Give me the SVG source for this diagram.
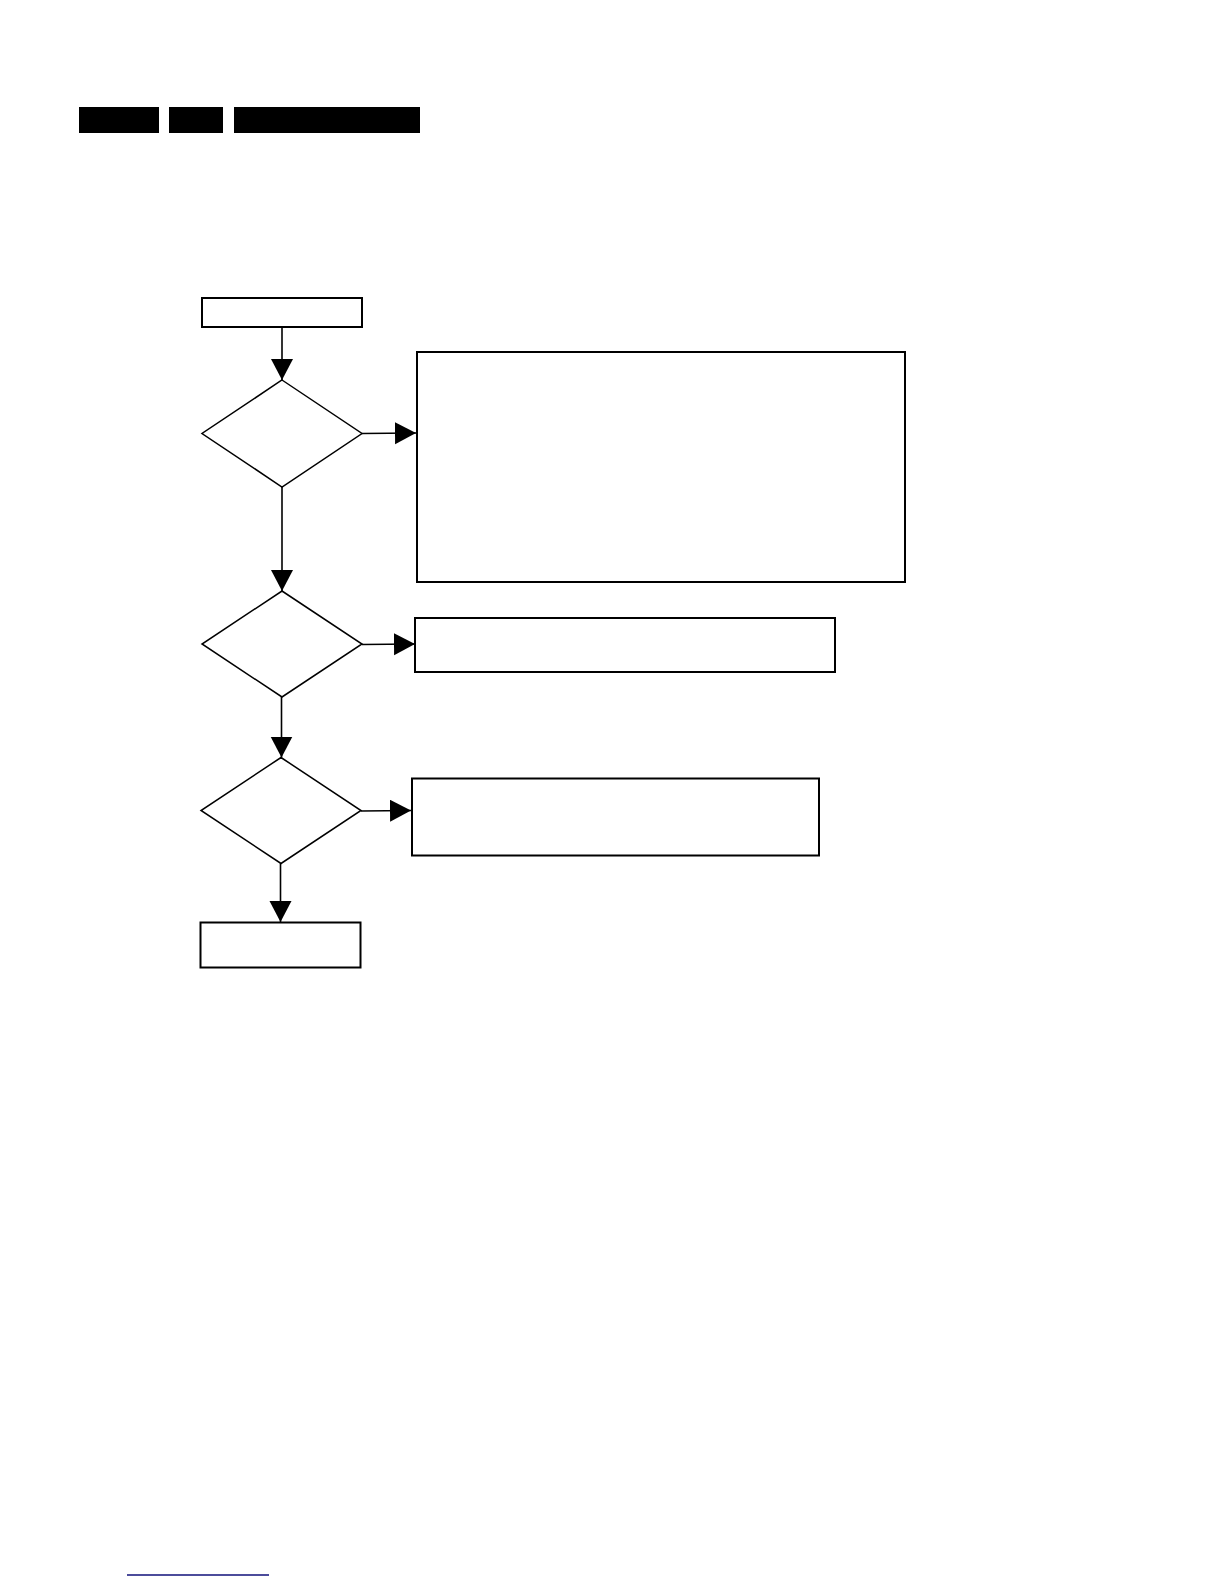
<svg xmlns="http://www.w3.org/2000/svg" width="1224" height="1584" viewBox="0 0 1224 1584">
  <style>
    .box { fill: #ffffff; stroke: #000000; stroke-width: 2; }
    .dia { fill: #ffffff; stroke: #000000; stroke-width: 1.5; }
    .conn { fill: none; stroke: #000000; stroke-width: 1.6; }
    .bar { fill: #000000; }
  </style>
  <defs>
    <marker id="arrow" markerUnits="userSpaceOnUse" markerWidth="23" markerHeight="23" refX="21" refY="11" orient="auto">
      <path d="M0,0 L21,11 L0,22 Z" fill="#000000"/>
    </marker>
  </defs>
  <rect width="1224" height="1584" fill="#ffffff"/>

  <g id="header">
    <rect class="bar" x="79" y="107" width="80" height="26"/>
    <rect class="bar" x="169" y="107" width="54" height="26"/>
    <rect class="bar" x="234" y="107" width="186" height="26"/>
  </g>

  <g id="start">
    <rect class="box" x="202" y="298" width="160" height="29"/>
  </g>
  <g id="decision1">
    <polygon class="dia" points="282,380 362,433.5 282,487 202,433.5"/>
  </g>
  <g id="action1">
    <rect class="box" x="417" y="352" width="488" height="230"/>
  </g>
  <g id="decision2">
    <polygon class="dia" points="282,591 362,644 282,697 202,644"/>
  </g>
  <g id="action2">
    <rect class="box" x="415" y="618" width="420" height="54"/>
  </g>
  <g id="decision3">
    <polygon class="dia" points="281,757.5 361,810.5 281,863.5 201,810.5"/>
  </g>
  <g id="action3">
    <rect class="box" x="412" y="778.5" width="407" height="77"/>
  </g>
  <g id="end">
    <rect class="box" x="200.5" y="922.5" width="160" height="45"/>
  </g>

  <g id="connectors">
    <line class="conn" x1="282" y1="327" x2="282" y2="380" marker-end="url(#arrow)"/>
    <line class="conn" x1="362" y1="433.5" x2="416" y2="433" marker-end="url(#arrow)"/>
    <line class="conn" x1="282" y1="487" x2="282" y2="591" marker-end="url(#arrow)"/>
    <line class="conn" x1="362" y1="644.5" x2="415" y2="644" marker-end="url(#arrow)"/>
    <line class="conn" x1="281.5" y1="697" x2="281.5" y2="757.5" marker-end="url(#arrow)"/>
    <line class="conn" x1="361" y1="811" x2="411" y2="810.5" marker-end="url(#arrow)"/>
    <line class="conn" x1="280.5" y1="863.5" x2="280.5" y2="922" marker-end="url(#arrow)"/>
  </g>

  <g id="footer">
    <line x1="127" y1="1575" x2="269" y2="1575" stroke="#10107a" stroke-width="1.6"/>
  </g>
</svg>
